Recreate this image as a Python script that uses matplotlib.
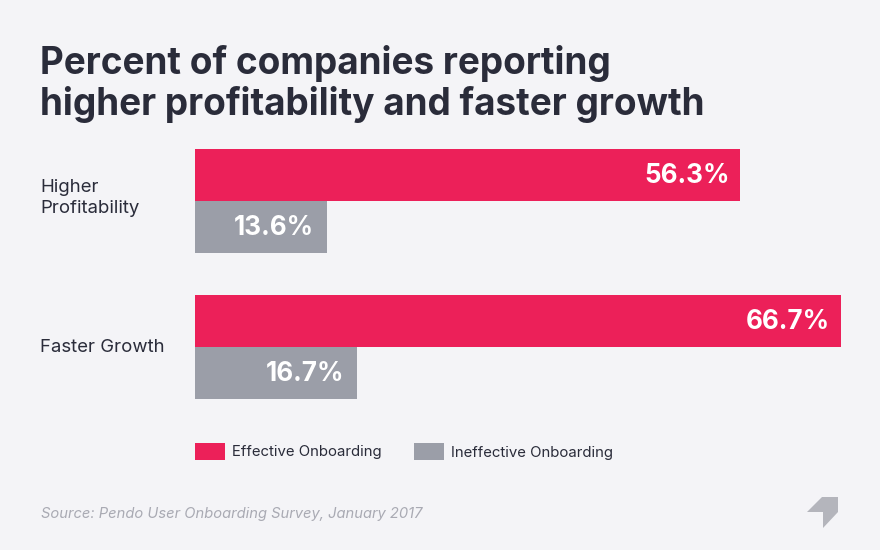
import matplotlib
matplotlib.use('Agg')
import matplotlib.pyplot as plt
from matplotlib.patches import Polygon, Rectangle

# values
categories = ['Higher\nProfitability', 'Faster Growth']
effective = [56.3, 66.7]
ineffective = [13.6, 16.7]
series_names = ['Effective Onboarding', 'Ineffective Onboarding']

BG = '#f4f4f7'
RED = '#ec2059'
GREY = '#9b9ea8'
DARK = '#2a2c3a'

plt.rcParams['font.family'] = ['Inter', 'DejaVu Sans']

fig = plt.figure(figsize=(8.8, 5.5), dpi=100, facecolor=BG)

# full figure overlay in pixel coords for the text and furniture
bg = fig.add_axes([0, 0, 1, 1])
bg.set_xlim(0, 880)
bg.set_ylim(550, 0)
bg.axis('off')

# bars: axes spans x 195..841 px, y 149..399 px
ax = fig.add_axes([195/880, 1 - 399/550, 646/880, 250/550])
ax.set_facecolor('none')
ax.set_xlim(0, 66.7)
ax.set_ylim(250, 0)
ax.axis('off')

bar_h = 52
tops = [0, 146]
for i in range(len(categories)):
    ax.barh(tops[i] + bar_h/2, effective[i], height=bar_h, color=RED)
    ax.barh(tops[i] + bar_h*1.5, ineffective[i], height=bar_h, color=GREY)
    ax.text(effective[i] - 1.1, tops[i] + bar_h/2 + 1, '%.1f%%' % effective[i], color='white',
            fontsize=18.8, fontweight='bold', ha='right', va='center')
    ax.text(ineffective[i] - 1.3, tops[i] + bar_h*1.5 + 1, '%.1f%%' % ineffective[i], color='white',
            fontsize=18.8, fontweight='bold', ha='right', va='center')

bg.text(40, 84, 'Percent of companies reporting\nhigher profitability and faster growth',
        fontsize=26.6, fontweight='bold', color=DARK, ha='left', va='center', linespacing=1.15)

bg.text(40, 198, categories[0], fontsize=13.4, color=DARK, ha='left', va='center', linespacing=1.25)
bg.text(40, 347, categories[1], fontsize=13.4, color=DARK, ha='left', va='center')

# legend
bg.add_patch(Rectangle((195, 443), 30, 17, color=RED, lw=0))
bg.text(232, 452, series_names[0], fontsize=10.75, color=DARK, ha='left', va='center')
bg.add_patch(Rectangle((414, 443), 30, 17, color=GREY, lw=0))
bg.text(451, 453, series_names[1], fontsize=10.75, color=DARK, ha='left', va='center')

bg.text(41, 514, 'Source: Pendo User Onboarding Survey, January 2017', fontsize=10.6, style='italic',
        color='#a9aab3', ha='left', va='center')

# logo
bg.add_patch(Polygon([(807, 512), (822, 497), (838, 497), (838, 512), (823, 528), (823, 512)],
                     closed=True, color='#b4b5bc', lw=0))

fig.savefig('out.png', dpi=100, facecolor=BG)
